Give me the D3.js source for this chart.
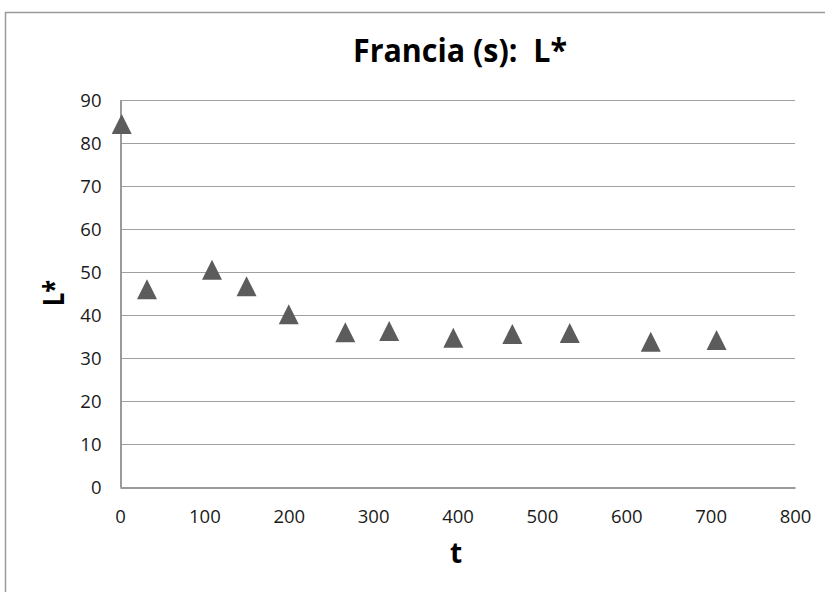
<!DOCTYPE html>
<html>
<head>
<meta charset="utf-8">
<script src="https://cdn.jsdelivr.net/npm/d3@7"></script>
<style>
  body { margin: 0; background: #fff; }
  svg { display: block; font-family: "Open Sans", "Liberation Sans", sans-serif; }
</style>
</head>
<body>
<div id="chart"></div>
<script>
"use strict";

// values
var tValues = [2, 32, 109, 150, 200, 267, 319, 395, 465, 533, 629, 707];
var lValues = [84.4, 46.0, 50.5, 46.7, 40.2, 36.0, 36.3, 34.7, 35.6, 35.8, 33.8, 34.2];
var xTicks = [0, 100, 200, 300, 400, 500, 600, 700, 800];
var yTicks = [0, 10, 20, 30, 40, 50, 60, 70, 80, 90];

var width = 825, height = 592;
var plot = { left: 120, right: 795, top: 100, bottom: 487 };

var svg = d3.select('#chart').append('svg')
  .attr('width', width)
  .attr('height', height);

// chart frame (only left and top edges are in view)
svg.append('path')
  .attr('d', 'M5.5,' + height + 'V12.5H' + width)
  .attr('fill', 'none')
  .attr('stroke', '#9a9a9a')
  .attr('stroke-width', 1.5);

var x = d3.scaleLinear().domain([0, 800]).range([plot.left, plot.right]);
var y = d3.scaleLinear().domain([0, 90]).range([plot.bottom, plot.top]);

// horizontal gridlines
svg.append('g').selectAll('line').data(yTicks.slice(1)).enter().append('line')
  .attr('x1', plot.left).attr('x2', plot.right)
  .attr('y1', function(d) { return Math.round(y(d)) + 0.5; })
  .attr('y2', function(d) { return Math.round(y(d)) + 0.5; })
  .attr('stroke', '#a0a0a0')
  .attr('stroke-width', 1.2);

// axes
var yAxis = svg.append('g')
  .attr('transform', 'translate(' + (plot.left + 0.5) + ',0)')
  .call(d3.axisLeft(y).tickValues(yTicks).tickSize(0).tickPadding(19));

var xAxis = svg.append('g')
  .attr('transform', 'translate(0,' + (plot.bottom + 0.5) + ')')
  .call(d3.axisBottom(x).tickValues(xTicks).tickSize(0).tickPadding(22));

[xAxis, yAxis].forEach(function(ax) {
  ax.select('.domain').attr('stroke', '#9a9a9a').attr('stroke-width', 2);
  ax.selectAll('text')
    .attr('fill', '#1a1a1a')
    .style('font-size', '18.5px')
    .style('font-family', '"Open Sans", sans-serif');
});
yAxis.selectAll('text').attr('dy', '0.36em');

// triangle markers
svg.append('g').selectAll('path').data(tValues).enter().append('path')
  .attr('d', function(d, i) {
    var cx = x(d), cy = y(lValues[i]);
    return 'M' + cx + ',' + (cy - 10) + 'L' + (cx + 10) + ',' + (cy + 10) + 'L' + (cx - 10) + ',' + (cy + 10) + 'Z';
  })
  .attr('fill', '#5c5c5c');

// title
svg.append('text')
  .attr('x', 353).attr('y', 62)
  .attr('textLength', 214)
  .attr('lengthAdjust', 'spacingAndGlyphs')
  .style('font-size', '32px')
  .style('font-weight', 'bold')
  .style('white-space', 'pre')
  .text('Francia (s):  L*');

// axis titles
svg.append('text')
  .attr('x', 456).attr('y', 563)
  .attr('text-anchor', 'middle')
  .style('font-size', '28px')
  .style('font-weight', 'bold')
  .text('t');

svg.append('text')
  .attr('transform', 'translate(64,293) rotate(-90)')
  .attr('text-anchor', 'middle')
  .attr('textLength', 26)
  .attr('lengthAdjust', 'spacingAndGlyphs')
  .style('font-size', '28px')
  .style('font-weight', 'bold')
  .text('L*');
</script>
</body>
</html>
